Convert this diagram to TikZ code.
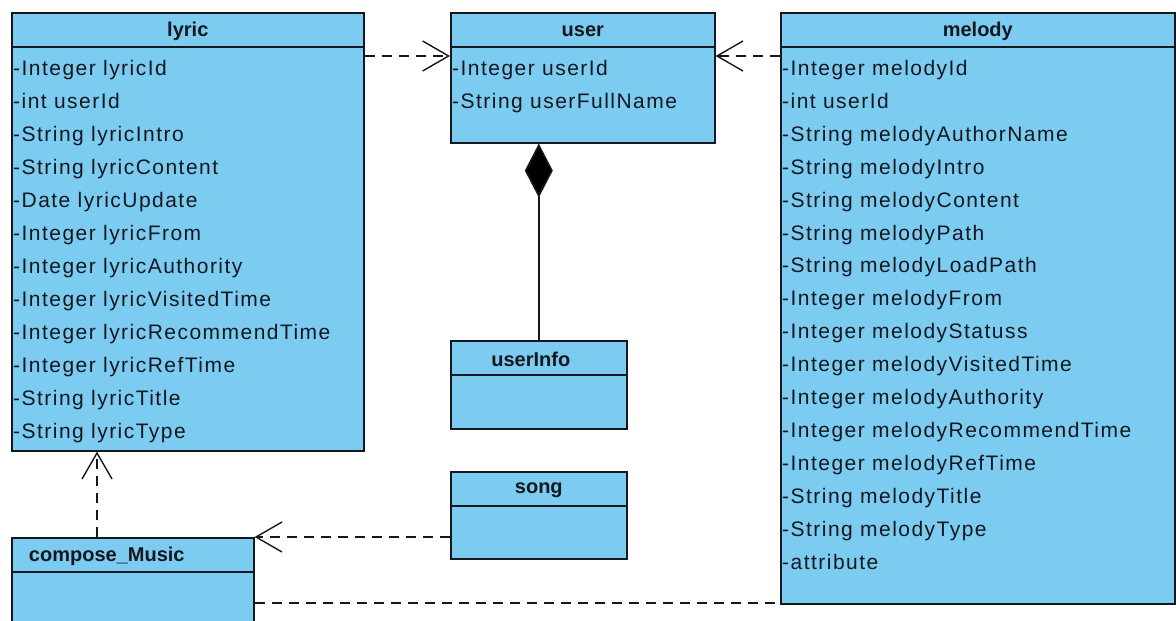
\documentclass[tikz,border=0pt]{standalone}
\usepackage{fontspec}
\setmainfont{Liberation Sans}
\newfontfamily\attrfont[LetterSpace=7]{Liberation Sans}
\usetikzlibrary{arrows.meta, positioning}

\definecolor{classblue}{RGB}{124,204,242}
\definecolor{lineblack}{RGB}{20,24,30}

\tikzset{
    classbox/.style={draw=lineblack, fill=classblue, line width=1.6pt, anchor=north west, inner sep=0pt},
    classname/.style={anchor=center, font=\fontsize{20}{22}\selectfont\bfseries, text=lineblack},
    attr/.style={anchor=base west, inner sep=0pt, font=\attrfont\fontsize{21}{22}\selectfont, text=lineblack},
    dep/.style={draw=lineblack, line width=1.5pt, dash pattern=on 10pt off 7pt, -{Straight Barb[length=26pt,width=30pt,line width=1.4pt]}},
    assoc/.style={draw=lineblack, line width=1.5pt, dash pattern=on 10pt off 7pt},
    compo/.style={draw=lineblack, line width=1.6pt, {Diamond[length=54pt,width=28pt,fill=black]}-}
}

\begin{document}
\begin{tikzpicture}[x=1pt, y=-1pt]
    \fill[white] (0,0) rectangle (1176,621);
    \clip (0,0) rectangle (1176,621);

    % class boxes
    \node[classbox, minimum width=352pt, minimum height=438pt] (lyric) at (11,12) {};
    \node[classbox, minimum width=264pt, minimum height=130pt] (user) at (450,12) {};
    \node[classbox, minimum width=394pt, minimum height=591pt] (melody) at (780,12) {};
    \node[classbox, minimum width=176pt, minimum height=88pt] (userInfo) at (450,340) {};
    \node[classbox, minimum width=176pt, minimum height=87pt] (song) at (450,471) {};
    \node[classbox, minimum width=242pt, minimum height=110pt] (compose) at (11,537) {};

    % header lines
    \foreach \cls in {lyric, user, melody, userInfo, song, compose}
        \draw[draw=lineblack, line width=1.6pt] ([yshift=-35pt]\cls.north west) -- ([yshift=-35pt]\cls.north east);

    % class names
    \node[classname] (lyric-name) at ([yshift=-19pt]lyric.north) {lyric};
    \node[classname] (user-name) at ([yshift=-19pt]user.north) {user};
    \node[classname] (melody-name) at ([yshift=-19pt]melody.north) {melody};
    \node[classname] (userInfo-name) at ([xshift=-8pt, yshift=-19pt]userInfo.north) {userInfo};
    \node[classname] (song-name) at ([yshift=-19pt]song.north) {song};
    \node[classname] (compose-name) at ([xshift=-26pt, yshift=-19pt]compose.north) {compose\_Music};

    % attributes
    \foreach \attrtext [count=\i] in {-Integer lyricId, -int userId, -String lyricIntro, -String lyricContent,
        -Date lyricUpdate, -Integer lyricFrom, -Integer lyricAuthority, -Integer lyricVisitedTime,
        -Integer lyricRecommendTime, -Integer lyricRefTime, -String lyricTitle, -String lyricType}
        \node[attr] (lyric-\i) at ([xshift=2pt, yshift={-63.5pt-(\i-1)*33pt}]lyric.north west) {\attrtext};

    \foreach \attrtext [count=\i] in {-Integer userId, -String userFullName}
        \node[attr] (user-\i) at ([xshift=2pt, yshift={-63.5pt-(\i-1)*33pt}]user.north west) {\attrtext};

    \foreach \attrtext [count=\i] in {-Integer melodyId, -int userId, -String melodyAuthorName, -String melodyIntro,
        -String melodyContent, -String melodyPath, -String melodyLoadPath, -Integer melodyFrom,
        -Integer melodyStatuss, -Integer melodyVisitedTime, -Integer melodyAuthority,
        -Integer melodyRecommendTime, -Integer melodyRefTime, -String melodyTitle, -String melodyType, -attribute}
        \node[attr] (melody-\i) at ([xshift=2pt, yshift={-63.5pt-(\i-1)*32.9pt}]melody.north west) {\attrtext};

    % connectors
    \draw[dep] ([yshift=-44pt]lyric.north east) -- ([yshift=-44pt]user.north west);
    \draw[dep] ([yshift=-44pt]melody.north west) -- ([yshift=-44pt]user.north east);
    \draw[compo] (userInfo.north |- user.south) -- (userInfo.north);
    \draw[dep] ([xshift=86pt]compose.north west) -- ([xshift=86pt]compose.north west |- lyric.south);
    \draw[dep] (song.west |- compose.north) -- (compose.north east);
    \draw[assoc] ([yshift=-66pt]compose.north east) -- ([yshift=-66pt]compose.north east -| melody.west);
\end{tikzpicture}
\end{document}
